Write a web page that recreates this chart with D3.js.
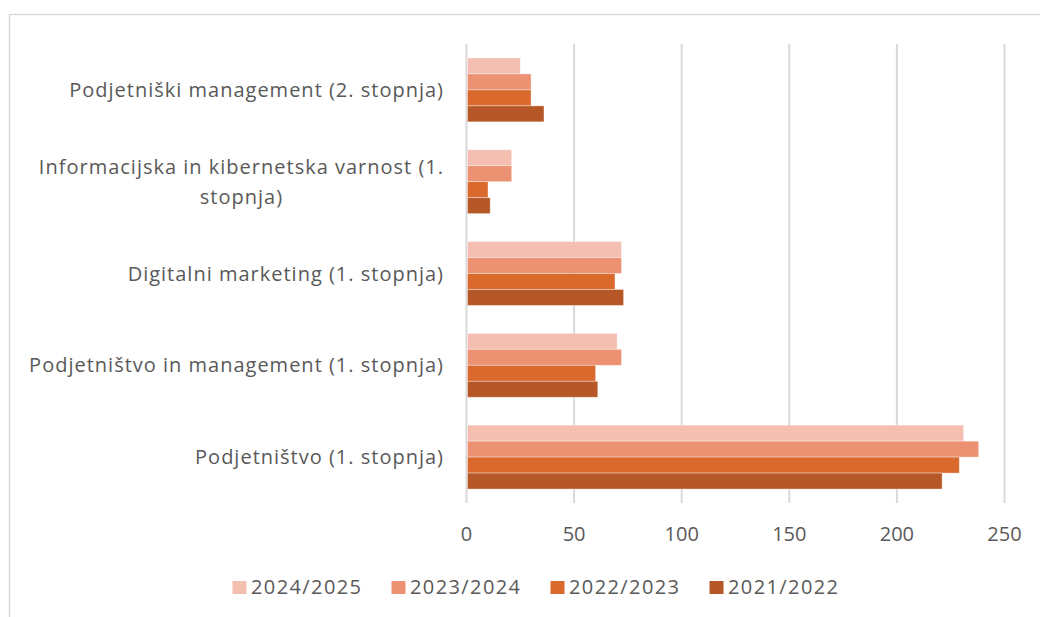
<!DOCTYPE html>
<html>
<head>
<meta charset="utf-8">
<script src="https://cdn.jsdelivr.net/npm/d3@7"></script>
<style>
  body { margin: 0; background: #fff; }
  text { font-family: "Open Sans", "Liberation Sans", Arial, sans-serif; fill: #595959; }
</style>
</head>
<body>
<div id="graph"></div>
<script>
// programmes, top to bottom
var categories = [
  "Podjetniški management (2. stopnja)",
  "Informacijska in kibernetska varnost (1.\nstopnja)",
  "Digitalni marketing (1. stopnja)",
  "Podjetništvo in management (1. stopnja)",
  "Podjetništvo (1. stopnja)"
];
var seriesNames = ["2024/2025", "2023/2024", "2022/2023", "2021/2022"];
var colors = ["#F4BEB0", "#EC9172", "#DA692D", "#B55727"];
// values per series, same order as categories
var v2024 = [25, 21, 72, 70, 231];
var v2023 = [30, 21, 72, 72, 238];
var v2022 = [30, 10, 69, 60, 229];
var v2021 = [36, 11, 73, 61, 221];
var xTicks = [0, 50, 100, 150, 200, 250];

var seriesValues = [v2024, v2023, v2022, v2021];
var rows = [];
categories.forEach(function(c, i) {
  seriesNames.forEach(function(s, j) {
    rows.push({cat: c, series: s, value: seriesValues[j][i], color: colors[j]});
  });
});

var W = 1040, H = 617;
var svg = d3.select("#graph").append("svg")
  .attr("width", W).attr("height", H);

// chart frame
svg.append("rect")
  .attr("x", 9.5).attr("y", 14.5)
  .attr("width", 1100).attr("height", 700)
  .attr("fill", "#fff")
  .attr("stroke", "#d9d9d9").attr("stroke-width", 1.5);

var x = d3.scaleLinear().domain([0, 250]).range([466.5, 1004.5]);
var y = d3.scaleBand().domain(categories).range([44, 503])
  .paddingInner(0.304).paddingOuter(0.152);
var yInner = d3.scaleBand().domain(seriesNames).range([0, y.bandwidth()]);

// gridlines
svg.append("g").selectAll("line")
  .data(xTicks).enter().append("line")
  .attr("x1", d => x(d)).attr("x2", d => x(d))
  .attr("y1", 44).attr("y2", 503)
  .attr("stroke", "#d9d9d9").attr("stroke-width", 2);

// bars
svg.append("g").selectAll("rect")
  .data(rows).enter().append("rect")
  .attr("x", x(0) + 1)
  .attr("y", d => y(d.cat) + yInner(d.series))
  .attr("width", d => x(d.value) - x(0) - 1)
  .attr("height", yInner.bandwidth())
  .attr("fill", d => d.color)
  .attr("stroke", "rgba(255,255,255,0.45)")
  .attr("stroke-width", 0.8);

// x tick labels
svg.append("g").selectAll("text")
  .data(xTicks).enter().append("text")
  .attr("x", d => x(d)).attr("y", 541)
  .attr("text-anchor", "middle")
  .style("font-size", "20px")
  .text(d => d);

// category labels (wrapped lines centred, block right-aligned)
var labelRight = 444;
var labels = svg.append("g").selectAll("text")
  .data(categories).enter().append("text")
  .style("font-size", "20px")
  .style("letter-spacing", "1px")
  .attr("text-anchor", "middle");
labels.each(function(c) {
  var t = d3.select(this);
  var lines = c.split("\n");
  var lh = 30;
  var cy = y(c) + y.bandwidth() / 2;
  var spans = lines.map(function(l, i) {
    return t.append("tspan")
      .attr("y", cy - (lines.length - 1) * lh / 2 + i * lh + 7)
      .text(l);
  });
  var maxW = d3.max(spans, s => s.node().getComputedTextLength());
  spans.forEach(s => s.attr("x", labelRight - maxW / 2));
});

// legend
var legend = svg.append("g").selectAll("g")
  .data(seriesNames).enter().append("g")
  .attr("transform", (d, i) => "translate(" + (232.5 + i * 159) + ",0)");
legend.append("rect")
  .attr("x", 0).attr("y", 581)
  .attr("width", 14).attr("height", 13)
  .attr("fill", (d, i) => colors[i]);
legend.append("text")
  .attr("x", 18.5).attr("y", 594)
  .style("font-size", "20px")
  .style("letter-spacing", "1.4px")
  .text(d => d);
</script>
</body>
</html>
